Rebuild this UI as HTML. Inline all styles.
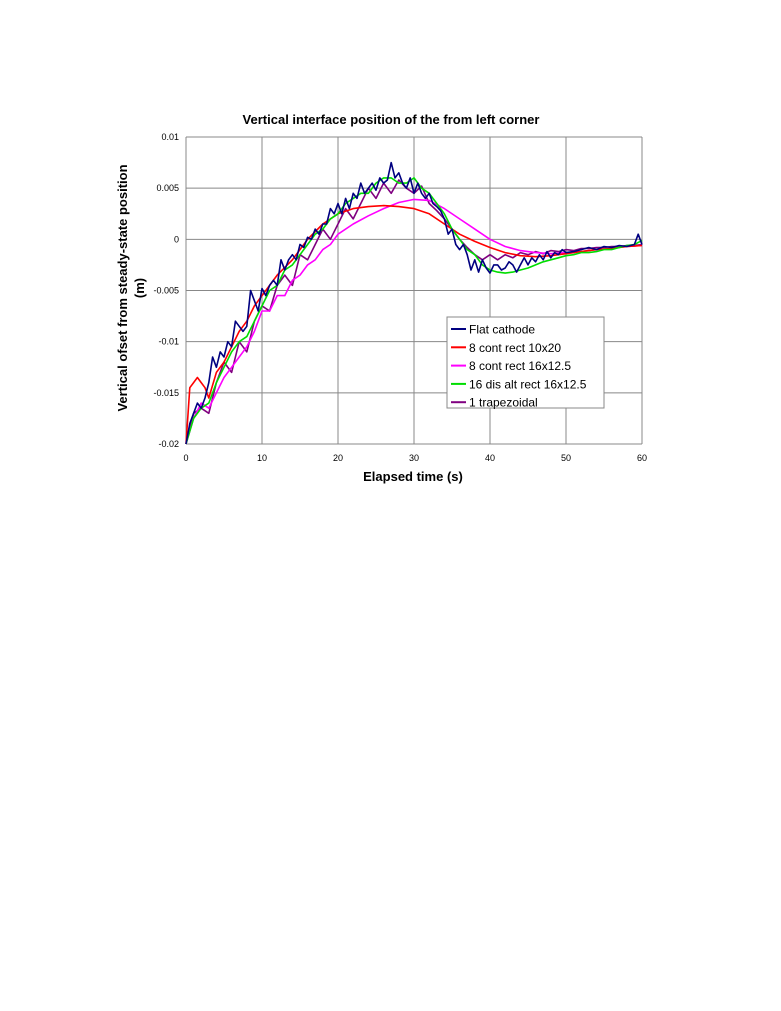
<!DOCTYPE html>
<html><head><meta charset="utf-8"><style>
body{margin:0;background:#fff;width:781px;height:1011px;overflow:hidden}
svg{position:absolute;left:0;top:0}
text{font-family:"Liberation Sans",Arial,sans-serif}
</style></head><body>
<svg id="chart" width="781" height="1011" xmlns="http://www.w3.org/2000/svg">
<text x="391" y="124" font-size="13" font-weight="bold" text-anchor="middle">Vertical interface position of the from left corner</text>
<g id="grid"></g>
<g id="series"></g>
<text x="413" y="481" font-size="13" font-weight="bold" text-anchor="middle">Elapsed time (s)</text>
<g font-size="13" font-weight="bold" text-anchor="middle">
<text transform="translate(127,288) rotate(-90)">Vertical ofset from steady-state position</text>
<text transform="translate(144,288) rotate(-90)">(m)</text>
</g>
<g>
<rect x="447" y="317" width="157" height="91" fill="#fff" stroke="#888" stroke-width="1"/>
<g id="legend-items"></g>
</g>
</svg>
<script>
const xTicks=[0,10,20,30,40,50,60];
const yTicks=[0.01,0.005,0,-0.005,-0.01,-0.015,-0.02];
const yTickLabels=["0.01","0.005","0","-0.005","-0.01","-0.015","-0.02"];
const seriesNames=["Flat cathode","8 cont rect 10x20","8 cont rect 16x12.5","16 dis alt rect 16x12.5","1 trapezoidal"];
const seriesColors=["#000080","#ff0000","#ff00ff","#00dd00","#800080"];
// values in mm (x0.001 m)
const flatT=[0,0.5,1,1.5,2,2.5,3,3.5,4,4.5,5,5.5,6,6.5,7,7.5,8,8.5,9,9.5,10,10.5,11,11.5,12,12.5,13,13.5,14,14.5,15,15.5,16,16.5,17,17.5,18,18.5,19,19.5,20,20.5,21,21.5,22,22.5,23,23.5,24,24.5,25,25.5,26,26.5,27,27.5,28,28.5,29,29.5,30,30.5,31,31.5,32,32.5,33,33.5,34,34.5,35,35.5,36,36.5,37,37.5,38,38.5,39,39.5,40,40.5,41,41.5,42,42.5,43,43.5,44,44.5,45,45.5,46,46.5,47,47.5,48,48.5,49,49.5,50,51,52,53,54,55,56,57,58,59,59.5,60];
const flatV=[-20,-18,-17,-16,-16.5,-15.5,-14,-11.5,-12.5,-11,-11.5,-10,-10.5,-8,-8.5,-9,-8.5,-5,-6,-7,-4.8,-5.5,-4.5,-4,-4.5,-2,-3,-2,-1.5,-2,-0.5,-0.8,0.2,0,1,0.5,1.5,1.5,3,2.5,3.5,2.5,4,3,4.5,4,5.5,4.5,5,5.5,4.8,6,5.5,5.8,7.5,6,6.5,5.5,5,6,4.5,5.5,4.5,4,4.5,3.5,3.2,2.8,2,0.5,1,-0.5,-1,-0.5,-1.5,-3,-2,-3.2,-2,-2.8,-3.3,-2.5,-2.5,-3,-2.8,-2.2,-2.5,-3.2,-2.5,-1.8,-2.5,-1.8,-2.2,-1.5,-2,-1.2,-1.8,-1.3,-1.5,-1,-1.3,-1.2,-1,-0.8,-1,-0.7,-0.8,-0.6,-0.7,-0.5,0.5,-0.5];
const redT=[0,0.5,1,1.5,2,2.5,3,4,5,6,7,8,9,10,12,14,16,18,20,22,24,26,28,30,32,34,36,38,40,42,44,46,48,50,52,54,56,58,60];
const redV=[-20,-14.5,-14,-13.5,-14,-14.5,-15.5,-13,-12,-10.5,-9,-8,-6.5,-5.5,-3.5,-2,0,1.5,2.5,3,3.2,3.3,3.2,3,2.5,1.5,0.5,-0.2,-0.8,-1.3,-1.6,-1.7,-1.6,-1.4,-1.2,-1,-0.9,-0.7,-0.6];
const magT=[0,1,2,3,4,5,6,7,8,9,10,11,12,13,14,15,16,17,18,19,20,22,24,26,28,30,32,34,36,38,40,42,44,46,48,50,52,54,56,58,60];
const magV=[-20,-17.5,-16,-16.5,-15,-13.5,-12.5,-11.5,-10.5,-9,-7,-7,-5.5,-5.5,-4,-3.5,-2.5,-2,-1,-0.5,0.5,1.5,2.3,3,3.6,3.9,3.8,3,2,1,0,-0.7,-1.1,-1.3,-1.4,-1.3,-1.2,-1,-0.9,-0.7,-0.6];
const grnV=[-20,-17.5,-16.5,-16,-14,-12.5,-11,-10,-9.5,-8,-6.5,-5,-4.5,-3,-2.5,-1.5,-0.5,0.5,1,2,2.5,3.5,4,4.5,4.5,5.5,6,6,5.5,5.5,6,5,4.5,3.5,2.5,1,0,-1,-1.5,-2.5,-3,-3.2,-3.3,-3.2,-3,-2.8,-2.5,-2.2,-2,-1.8,-1.6,-1.5,-1.3,-1.3,-1.2,-1,-1,-0.8,-0.6,-0.5,-0.1];
const purV=[-20,-17,-16.5,-17,-14,-12,-13,-10,-11,-8,-6.5,-7,-4.5,-3.5,-4.5,-1.5,-2,-0.5,1,0,1.5,3,2,3.5,5,4,5.5,4.5,5.8,5,4.5,5.2,3.5,2.8,2,1,0,-0.8,-1.5,-2,-1.5,-2,-1.5,-1.8,-1.3,-1.5,-1.2,-1.4,-1.1,-1.2,-1,-1.1,-0.9,-0.9,-0.8,-0.8,-0.7,-0.7,-0.6,-0.6,-0.5];
const sec=[];for(let i=0;i<=60;i++)sec.push(i);

const X0=186,X1=642,Y0=137,Y1=444;
const xs=t=>X0+(t-0)/60*(X1-X0);
const ys=v=>Y0+(0.01-v)/0.03*(Y1-Y0);
const NS="http://www.w3.org/2000/svg";
const grid=document.getElementById('grid');
function mk(tag,attrs,parent){const e=document.createElementNS(NS,tag);for(const k in attrs)e.setAttribute(k,attrs[k]);parent.appendChild(e);return e;}
xTicks.forEach(t=>{
  const l=mk('line',{x1:xs(t),x2:xs(t),y1:Y0,y2:Y1,stroke:'#888','stroke-width':1},grid);
  
  
  const tx=mk('text',{x:xs(t),y:Y1+17,'font-size':9,'text-anchor':'middle'},grid);tx.textContent=t;
  
  
});
yTicks.forEach((v,i)=>{
  const l=mk('line',{x1:X0,x2:X1,y1:ys(v),y2:ys(v),stroke:'#888','stroke-width':1},grid);
  
  
  const tx=mk('text',{x:X0-7,y:ys(v)+3,'font-size':9,'text-anchor':'end'},grid);tx.textContent=yTickLabels[i];
  
  
});
const sg=document.getElementById('series');
const sets=[[flatT,flatV],[redT,redV],[magT,magV],[sec,grnV],[sec,purV]];
const order=[4,2,1,3,0];
order.forEach(i=>{
  const [T,V]=sets[i];
  const d=T.map((t,j)=>(j?'L':'M')+xs(t).toFixed(1)+','+ys(V[j]*0.001).toFixed(1)).join('');
  const p=mk('path',{d:d,fill:'none',stroke:seriesColors[i],'stroke-width':1.6,'stroke-linejoin':'round'},sg);
  
  
});
const lg=document.getElementById('legend-items');
seriesNames.forEach((n,i)=>{
  const y=329+i*18.3;
  const l=mk('line',{x1:451,x2:466,y1:y,y2:y,stroke:seriesColors[i],'stroke-width':2},lg);
  
  
  const t=mk('text',{x:469,y:y+4.5,'font-size':12},lg);t.textContent=n;
  
  
});
</script>
</body></html>
